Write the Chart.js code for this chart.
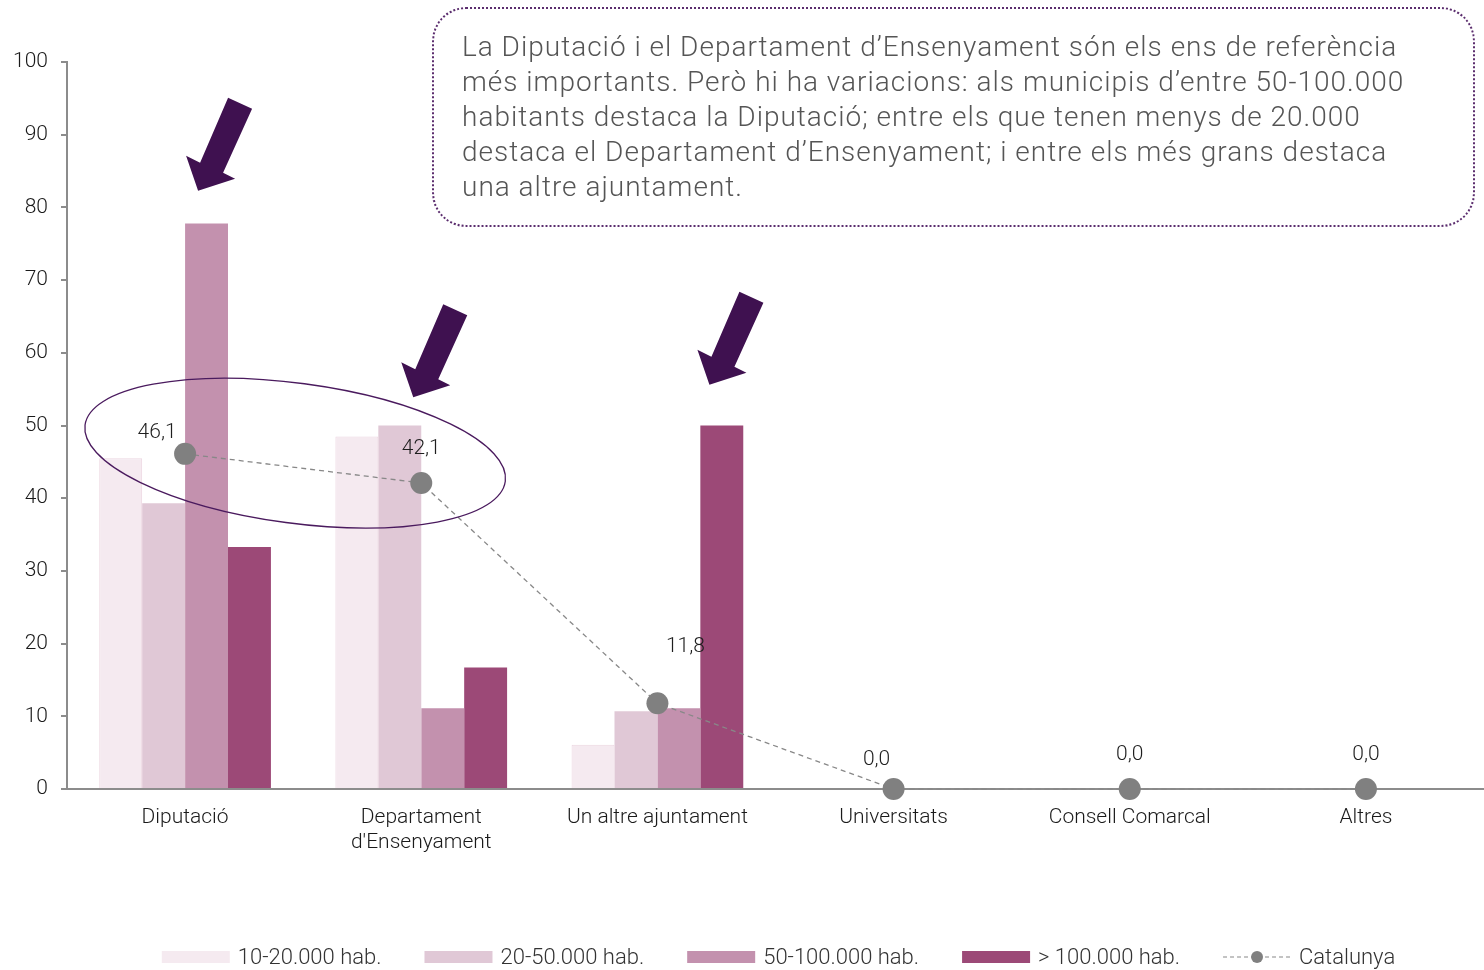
<!DOCTYPE html>
<html><head><meta charset="utf-8">
<script src="https://cdn.jsdelivr.net/npm/chart.js@4/dist/chart.umd.min.js"></script>
<style>
html,body{margin:0;padding:0;background:#fff;}
#wrap{position:relative;width:1484px;height:970px;overflow:hidden;}
#note{position:absolute;left:432px;top:7px;width:1043px;height:220px;box-sizing:border-box;border:2px dotted #5b2d6e;border-radius:34px;padding:20px 0 0 28px;font-family:Roboto,"Liberation Sans",sans-serif;font-weight:300;font-size:28px;letter-spacing:1px;line-height:35px;color:#555;white-space:nowrap;}
</style></head>
<body><div id="wrap"><canvas id="c" width="1484" height="970"></canvas>
<div id="note">La Diputació i el Departament d’Ensenyament són els ens de referència<br>més importants. Però hi ha variacions: als municipis d’entre 50-100.000<br>habitants destaca la Diputació; entre els que tenen menys de 20.000<br>destaca el Departament d’Ensenyament; i entre els més grans destaca<br>una altre ajuntament.</div></div>
<script>
const categories = ['Diputació', ['Departament', "d'Ensenyament"], 'Un altre ajuntament', 'Universitats', 'Consell Comarcal', 'Altres'];
const seriesNames = ['10-20.000 hab.', '20-50.000 hab.', '50-100.000 hab.', '> 100.000 hab.', 'Catalunya'];
const s10_20 = [45.5, 48.5, 6.1, 0, 0, 0];
const s20_50 = [39.3, 50.0, 10.7, 0, 0, 0];
const s50_100 = [77.8, 11.1, 11.1, 0, 0, 0];
const s100plus = [33.3, 16.7, 50.0, 0, 0, 0];
const catalunya = [46.1, 42.1, 11.8, 0.0, 0.0, 0.0];
const yTicks = [0, 10, 20, 30, 40, 50, 60, 70, 80, 90, 100];

const barColors = ['#f5eaf0', '#e0c8d6', '#c391ae', '#9c4977'];
const FONT = 'Roboto, "Liberation Sans", sans-serif';

// label offsets (px) for Catalunya values
const labelDx = [-28, 0, 28, -17, 0, 0];
const labelDy = [-21, -34, -56, -29, -34, -34];

// annotation arrows: category index, x offset px, tip value
const arrowCat = [0, 1, 2];
const arrowDx = [13, -8, 52];
const arrowTipVal = [82.3, 53.9, 55.6];

const overlay = {
  id: 'overlay',
  afterDatasetsDraw(chart) {
    const ctx = chart.ctx, xs = chart.scales.x, ys = chart.scales.y;
    ctx.save();
    ctx.font = '300 21px ' + FONT;
    ctx.fillStyle = '#1e1e1e';
    ctx.textAlign = 'center'; ctx.textBaseline = 'middle';
    catalunya.forEach((v, i) => {
      const x = xs.getPixelForValue(i) + labelDx[i];
      const y = ys.getPixelForValue(v) + labelDy[i];
      ctx.fillText(v.toFixed(1).replace('.', ','), x, y);
    });
    ctx.restore();
    ctx.save();
    ctx.beginPath();
    ctx.ellipse(xs.getPixelForValue(0.5) - 8, ys.getPixelForValue(46.2), 212, 70, 0.133, 0, Math.PI * 2);
    ctx.strokeStyle = '#4a1a5e'; ctx.lineWidth = 1.3; ctx.stroke();
    ctx.restore();
    const shape = [[0,0],[-12,-35],[2,-28],[30,-93],[54,-82],[25,-18],[37,-12]];
    ctx.save();
    ctx.fillStyle = '#3f1150';
    arrowCat.forEach((c, k) => {
      const tx = xs.getPixelForValue(c) + arrowDx[k];
      const ty = ys.getPixelForValue(arrowTipVal[k]);
      ctx.beginPath();
      shape.forEach((p, j) => { if (j === 0) ctx.moveTo(tx + p[0], ty + p[1]); else ctx.lineTo(tx + p[0], ty + p[1]); });
      ctx.closePath(); ctx.fill();
    });
    ctx.restore();
  },
  afterDraw(chart) {
    const ctx = chart.ctx;
    ctx.save();
    ctx.font = '300 22px ' + FONT;
    ctx.textBaseline = 'middle';
    const boxW = 68, gapBox = 8, gapItem = 43, y = 957;
    const widths = seriesNames.map(n => boxW + gapBox + ctx.measureText(n).width);
    const total = widths.reduce((a, b) => a + b, 0) + gapItem * (seriesNames.length - 1);
    let x = 778.5 - total / 2;
    seriesNames.forEach((n, i) => {
      if (i < 4) {
        ctx.fillStyle = barColors[i];
        ctx.fillRect(x, y - 6, boxW, 12);
      } else {
        ctx.strokeStyle = '#888'; ctx.lineWidth = 1.2; ctx.setLineDash([4, 3]);
        ctx.beginPath(); ctx.moveTo(x, y); ctx.lineTo(x + boxW, y); ctx.stroke();
        ctx.setLineDash([]);
        ctx.fillStyle = '#808080';
        ctx.beginPath(); ctx.arc(x + boxW / 2, y, 6, 0, Math.PI * 2); ctx.fill();
      }
      ctx.fillStyle = '#333';
      ctx.textAlign = 'left';
      ctx.fillText(n, x + boxW + gapBox, y + 1);
      x += widths[i] + gapItem;
    });
    ctx.restore();
  }
};

const barSets = [s10_20, s20_50, s50_100, s100plus].map((d, i) => ({
  type: 'bar', label: seriesNames[i], data: d,
  backgroundColor: barColors[i],
  borderColor: i === 0 ? '#ecd6e1' : barColors[i], borderWidth: i === 0 ? 1 : 0,
  barPercentage: 1, categoryPercentage: 0.727, order: 1
}));

new Chart(document.getElementById('c'), {
  data: {
    labels: categories,
    datasets: [
      { type: 'line', label: seriesNames[4], data: catalunya, borderColor: '#888', borderWidth: 1.3,
        borderDash: [5, 4], pointRadius: 11, pointHoverRadius: 11, pointBackgroundColor: '#808080',
        pointBorderWidth: 0, tension: 0, clip: false, order: 0 },
      ...barSets
    ]
  },
  options: {
    responsive: false, animation: false, devicePixelRatio: 1,
    layout: { autoPadding: false, padding: { top: 62, right: -2, left: 0, bottom: 0 } },
    plugins: { legend: { display: false }, tooltip: { enabled: false } },
    scales: {
      x: {
        grid: { display: false, drawTicks: true, tickLength: 16 },
        border: { display: true, color: '#8c8c8c', width: 2 },
        ticks: { color: '#1a1a1a', font: { family: FONT, size: 21, weight: 300, lineHeight: 1.2 }, padding: 0, maxRotation: 0, autoSkip: false },
        afterFit(s) { s.height = 181; s.paddingLeft = 0; s.paddingRight = 0; }
      },
      y: {
        min: 0, max: 100,
        afterBuildTicks(s) { s.ticks = yTicks.map(v => ({ value: v })); },
        grid: { display: true, drawOnChartArea: false, drawTicks: true, tickLength: 6, color: '#8c8c8c', lineWidth: 2 },
        border: { display: true, color: '#8c8c8c', width: 2 },
        ticks: { color: '#1a1a1a', font: { family: FONT, size: 21, weight: 300 }, padding: 13 },
        afterFit(s) { s.width = 67; }
      }
    }
  },
  plugins: [overlay]
});
</script>
</body></html>
